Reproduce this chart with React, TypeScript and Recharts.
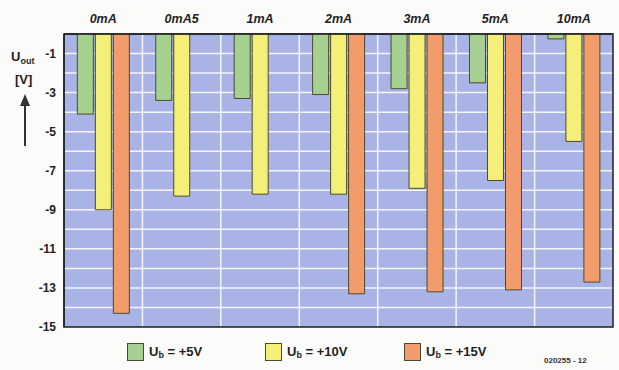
import {
  BarChart,
  Bar,
  XAxis,
  YAxis,
  CartesianGrid,
  ReferenceArea,
} from "recharts";

/* ── Data ──────────────────────────────────────────────────── */
const currents = ["0mA", "0mA5", "1mA", "2mA", "3mA", "5mA", "10mA"];
const ub5 = [-4.1, -3.4, -3.3, -3.1, -2.8, -2.5, -0.25];
const ub10 = [-9.0, -8.3, -8.2, -8.2, -7.9, -7.5, -5.5];
const ub15 = [-14.3, null, null, -13.3, -13.2, -13.1, -12.7];
const yTicks = [-1, -3, -5, -7, -9, -11, -13, -15];

const seriesNames = ["+5V", "+10V", "+15V"];
const seriesKeys = ["ub5", "ub10", "ub15"];
const seriesColors = ["#a6d08f", "#f3ef78", "#f29c6b"];

const data = currents.map((c, i) => ({
  name: c,
  ub5: ub5[i],
  ub10: ub10[i],
  ub15: ub15[i],
}));

const FONT = "'Liberation Sans', Arial, sans-serif";
const INK = "#1f1f24";
const OUTLINE = "#4b4a2c";

export default function App() {
  return (
    <div
      style={{
        position: "absolute",
        left: 0,
        top: 0,
        width: 619,
        height: 370,
        background: "#fbfbf9",
        fontFamily: FONT,
        color: INK,
      }}
    >
      <BarChart
        width={619}
        height={370}
        data={data}
        margin={{ top: 0, right: 6, bottom: 43, left: 0 }}
        barCategoryGap="17%"
        barGap={2}
      >
        <CartesianGrid
          fill="#aab3e6"
          fillOpacity={1}
          stroke="#f4f6ff"
          strokeWidth={1.5}
          horizontalCoordinatesGenerator={({ offset }: any) =>
            Array.from({ length: 14 }, (_, i) => offset.top + (offset.height * (i + 1)) / 15)
          }
          verticalCoordinatesGenerator={({ offset }: any) =>
            Array.from({ length: 6 }, (_, i) => offset.left + (offset.width * (i + 1)) / 7)
          }
        />
        <XAxis
          dataKey="name"
          orientation="top"
          height={34}
          tickLine={false}
          tickSize={9}
          axisLine={{ stroke: INK, strokeWidth: 1.5 }}
          tick={{
            fill: INK,
            fontSize: 12.5,
            fontWeight: 700,
            fontStyle: "italic",
            fontFamily: FONT,
          }}
          interval={0}
        />
        <YAxis
          width={64}
          domain={[-15, 0]}
          ticks={yTicks}
          tickLine={false}
          tickSize={6}
          tickMargin={2}
          axisLine={{ stroke: INK, strokeWidth: 1.5 }}
          tick={{ fill: INK, fontSize: 12, fontWeight: 700, fontFamily: FONT }}
          allowDataOverflow
        />
        {seriesKeys.map((k, i) => (
          <Bar
            key={k}
            dataKey={k}
            fill={seriesColors[i]}
            stroke={OUTLINE}
            strokeWidth={1}
            isAnimationActive={false}
          />
        ))}
        <ReferenceArea
          y1={-15}
          y2={0}
          fill="none"
          stroke={INK}
          strokeWidth={1.5}
          ifOverflow="visible"
        />
      </BarChart>

      {/* ── Y axis caption with arrow ───────────────────────────── */}
      <div
        style={{
          position: "absolute",
          left: 11,
          top: 50,
          fontSize: 13,
          fontWeight: 700,
          lineHeight: "14px",
        }}
      >
        U<sub style={{ fontSize: 9, verticalAlign: "-3px" }}>out</sub>
      </div>
      <div
        style={{
          position: "absolute",
          left: 15,
          top: 72,
          fontSize: 13,
          fontWeight: 700,
        }}
      >
        [V]
      </div>
      <svg
        style={{ position: "absolute", left: 18, top: 94 }}
        width={14}
        height={54}
      >
        <line x1={7} y1={10} x2={7} y2={52} stroke="#333" strokeWidth={2} />
        <polygon points="7,0 2,12 12,12" fill="#333" />
      </svg>

      {/* ── Legend ──────────────────────────────────────────────── */}
      {seriesNames.map((n, i) => (
        <div
          key={n}
          style={{
            position: "absolute",
            left: [127, 265, 404][i],
            top: 343,
            display: "flex",
            alignItems: "center",
            fontSize: 13,
            fontWeight: 700,
            whiteSpace: "nowrap",
          }}
        >
          <span
            style={{
              display: "inline-block",
              width: 17,
              height: 18,
              background: seriesColors[i],
              border: `1px solid ${OUTLINE}`,
              boxSizing: "border-box",
              marginRight: 5,
            }}
          />
          <span>
            U<sub style={{ fontSize: 9, verticalAlign: "-2px" }}>b</sub> = {n}
          </span>
        </div>
      ))}
      <div
        style={{
          position: "absolute",
          left: 544,
          top: 356,
          fontSize: 8,
          fontWeight: 700,
          color: "#333",
        }}
      >
        020255 - 12
      </div>
    </div>
  );
}
